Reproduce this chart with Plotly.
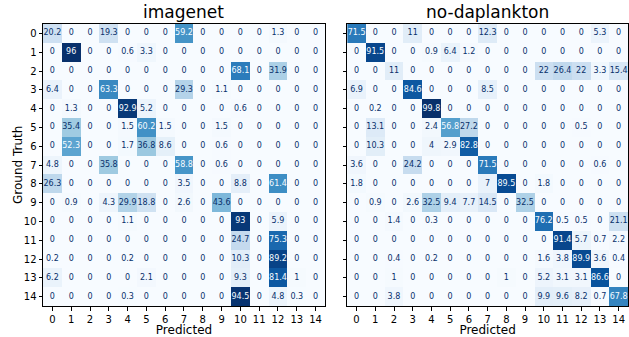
import plotly.graph_objects as go

classes = list(range(15))
tick_labels = [str(c) for c in classes]

imagenet = [
    [20.2, 0, 0, 19.3, 0, 0, 0, 59.2, 0, 0, 0, 0, 1.3, 0, 0],
    [0, 96, 0, 0, 0.6, 3.3, 0, 0, 0, 0, 0, 0, 0, 0, 0],
    [0, 0, 0, 0, 0, 0, 0, 0, 0, 0, 68.1, 0, 31.9, 0, 0],
    [6.4, 0, 0, 63.3, 0, 0, 0, 29.3, 0, 1.1, 0, 0, 0, 0, 0],
    [0, 1.3, 0, 0, 92.9, 5.2, 0, 0, 0, 0, 0.6, 0, 0, 0, 0],
    [0, 35.4, 0, 0, 1.5, 60.2, 1.5, 0, 0, 1.5, 0, 0, 0, 0, 0],
    [0, 52.3, 0, 0, 1.7, 36.8, 8.6, 0, 0, 0.6, 0, 0, 0, 0, 0],
    [4.8, 0, 0, 35.8, 0, 0, 0, 58.8, 0, 0.6, 0, 0, 0, 0, 0],
    [26.3, 0, 0, 0, 0, 0, 0, 3.5, 0, 0, 8.8, 0, 61.4, 0, 0],
    [0, 0.9, 0, 4.3, 29.9, 18.8, 0, 2.6, 0, 43.6, 0, 0, 0, 0, 0],
    [0, 0, 0, 0, 1.1, 0, 0, 0, 0, 0, 93, 0, 5.9, 0, 0],
    [0, 0, 0, 0, 0, 0, 0, 0, 0, 0, 24.7, 0, 75.3, 0, 0],
    [0.2, 0, 0, 0, 0.2, 0, 0, 0, 0, 0, 10.3, 0, 89.2, 0, 0],
    [6.2, 0, 0, 0, 0, 2.1, 0, 0, 0, 0, 9.3, 0, 81.4, 1, 0],
    [0, 0, 0, 0, 0.3, 0, 0, 0, 0, 0, 94.5, 0, 4.8, 0.3, 0],
]

no_daplankton = [
    [71.5, 0, 0, 11, 0, 0, 0, 12.3, 0, 0, 0, 0, 0, 5.3, 0],
    [0, 91.5, 0, 0, 0.9, 6.4, 1.2, 0, 0, 0, 0, 0, 0, 0, 0],
    [0, 0, 11, 0, 0, 0, 0, 0, 0, 0, 22, 26.4, 22, 3.3, 15.4],
    [6.9, 0, 0, 84.6, 0, 0, 0, 8.5, 0, 0, 0, 0, 0, 0, 0],
    [0, 0.2, 0, 0, 99.8, 0, 0, 0, 0, 0, 0, 0, 0, 0, 0],
    [0, 13.1, 0, 0, 2.4, 56.8, 27.2, 0, 0, 0, 0, 0, 0.5, 0, 0],
    [0, 10.3, 0, 0, 4, 2.9, 82.8, 0, 0, 0, 0, 0, 0, 0, 0],
    [3.6, 0, 0, 24.2, 0, 0, 0, 71.5, 0, 0, 0, 0, 0, 0.6, 0],
    [1.8, 0, 0, 0, 0, 0, 0, 7, 89.5, 0, 1.8, 0, 0, 0, 0],
    [0, 0.9, 0, 2.6, 32.5, 9.4, 7.7, 14.5, 0, 32.5, 0, 0, 0, 0, 0],
    [0, 0, 1.4, 0, 0.3, 0, 0, 0, 0, 0, 76.2, 0.5, 0.5, 0, 21.1],
    [0, 0, 0, 0, 0, 0, 0, 0, 0, 0, 0, 91.4, 5.7, 0.7, 2.2],
    [0, 0, 0.4, 0, 0.2, 0, 0, 0, 0, 0, 1.6, 3.8, 89.9, 3.6, 0.4],
    [0, 0, 1, 0, 0, 0, 0, 0, 1, 0, 5.2, 3.1, 3.1, 86.6, 0],
    [0, 0, 3.8, 0, 0, 0, 0, 0, 0, 0, 9.9, 9.6, 8.2, 0.7, 67.8],
]

titles = ["imagenet", "no-daplankton"]

blues = [
    [0.0, "#f7fbff"], [0.125, "#deebf7"], [0.25, "#c6dbef"], [0.375, "#9ecae1"],
    [0.5, "#6baed6"], [0.625, "#4292c6"], [0.75, "#2171b5"], [0.875, "#08519c"],
    [1.0, "#08306b"],
]
DARK = "#08306b"
LIGHT = "#f7fbff"

fig = go.Figure()
mats = [imagenet, no_daplankton]
for k, m in enumerate(mats):
    xa = "x" if k == 0 else "x2"
    ya = "y" if k == 0 else "y2"
    mx = max(max(r) for r in m)
    mn = min(min(r) for r in m)
    fig.add_trace(go.Heatmap(
        z=m, x=classes, y=classes, colorscale=blues, zmin=mn, zmax=mx,
        showscale=False, xaxis=xa, yaxis=ya, hoverinfo="skip", xgap=0, ygap=0,
    ))
    thresh = (mx + mn) / 2
    xs, ys, txt, cols = [], [], [], []
    for i, row in enumerate(m):
        for j, v in enumerate(row):
            xs.append(j)
            ys.append(i)
            txt.append(f"{v:g}")
            cols.append(DARK if v < thresh else LIGHT)
    fig.add_trace(go.Scatter(
        x=xs, y=ys, text=txt, mode="text", textposition="middle center",
        textfont=dict(family="DejaVu Sans", size=8, color=cols),
        xaxis=xa, yaxis=ya, hoverinfo="skip", showlegend=False,
    ))

axis_common = dict(
    tickmode="array", tickvals=classes, ticktext=tick_labels,
    ticks="outside", ticklen=3.5, tickwidth=1, tickcolor="black",
    showline=True, linecolor="black", linewidth=1, mirror=True,
    showgrid=False, zeroline=False,
    tickfont=dict(family="DejaVu Sans", size=10, color="black"),
)

title_font = dict(size=17, family="DejaVu Sans", color="black")

fig.update_layout(
    width=629, height=337,
    margin=dict(l=43, r=1, t=24, b=31),
    paper_bgcolor="white", plot_bgcolor="white",
    showlegend=False,
    font=dict(family="DejaVu Sans", color="black"),
    xaxis=dict(domain=[0, 0.482], range=[-0.5, 14.5],
               title=dict(text="Predicted", font=dict(size=12), standoff=2), **axis_common),
    xaxis2=dict(domain=[0.52, 1], range=[-0.5, 14.5], anchor="y2",
                title=dict(text="Predicted", font=dict(size=12), standoff=2), **axis_common),
    yaxis=dict(domain=[0, 1], range=[14.5, -0.5], **axis_common),
    yaxis2=dict(domain=[0, 1], range=[14.5, -0.5], anchor="x2", showticklabels=False, **axis_common),
    annotations=[
        dict(text=titles[0], x=0.241, y=1.0, xref="paper", yref="paper", yanchor="bottom",
             xanchor="center", showarrow=False, yshift=0, font=title_font),
        dict(text=titles[1], x=0.76, y=1.0, xref="paper", yref="paper", yanchor="bottom",
             xanchor="center", showarrow=False, yshift=0, font=title_font),
        dict(text="Ground Truth", x=0, y=0.5, xref="paper", yref="paper", textangle=-90,
             xanchor="center", yanchor="middle", xshift=-25, showarrow=False,
             font=dict(size=12, family="DejaVu Sans", color="black")),
    ],
)

fig.write_html("out.html", config={"displayModeBar": False},
               post_script="document.body.style.margin='0';document.body.style.padding='0';")
